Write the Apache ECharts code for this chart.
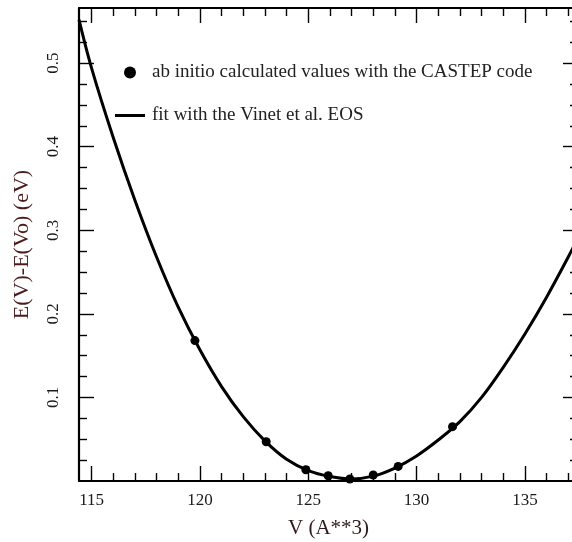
<!DOCTYPE html>
<html>
<head>
<meta charset="utf-8">
<script src="https://cdn.jsdelivr.net/npm/echarts@6/dist/echarts.min.js"></script>
<style>
  html, body { margin: 0; padding: 0; background: #fff; overflow: hidden; }
  #container { width: 572px; height: 542px; }
</style>
</head>
<body>
<div id="container"></div>
<script>
// ab initio points (V in A**3, E(V)-E(Vo) in eV)
var pointV = [119.77, 123.06, 124.89, 125.92, 126.92, 128.0, 129.15, 131.66];
var pointE = [0.168, 0.047, 0.0135, 0.0063, 0.0024, 0.0072, 0.0175, 0.065];

// Vinet EOS fit curve
var fitV = [114.42, 115, 116, 117, 118, 119, 120, 121, 122, 123, 124, 125, 126, 127, 128, 129, 130, 131, 132, 133, 134, 135, 136, 137, 137.45];
var fitE = [0.552, 0.494, 0.411, 0.336, 0.268, 0.208, 0.157, 0.113, 0.077, 0.048, 0.026, 0.0125, 0.0055, 0.0025, 0.0058, 0.0155, 0.030, 0.049, 0.071, 0.100, 0.136, 0.176, 0.220, 0.268, 0.291];

var xMajorTicks = [115, 120, 125, 130, 135];
var xMinorTicks = [116, 117, 118, 119, 121, 122, 123, 124, 126, 127, 128, 129, 131, 132, 133, 134, 136, 137];
var yMajorTicks = [0.1, 0.2, 0.3, 0.4, 0.5];
var yMinorTicks = [0.025, 0.05, 0.075, 0.125, 0.15, 0.175, 0.225, 0.25, 0.275, 0.325, 0.35, 0.375, 0.425, 0.45, 0.475, 0.525, 0.55];

var legendNames = ['ab initio calculated values with the CASTEP code', 'fit with the Vinet et al. EOS'];

var X_MIN = 114.42, X_MAX = 137.45, Y_MIN = 0, Y_MAX = 0.566;
var FONT = 'Liberation Serif';

function zip(a, b) {
  var out = [];
  for (var i = 0; i < a.length; i++) out.push([a[i], b[i]]);
  return out;
}

function xAxisDef(grid, pos, ticks, len, withLine, withLabel) {
  return {
    type: 'value', gridIndex: grid, position: pos, min: X_MIN, max: X_MAX,
    axisLine: { show: withLine, onZero: false, lineStyle: { color: '#000', width: 2.2 } },
    axisTick: { show: true, inside: true, length: len, customValues: ticks, lineStyle: { color: '#000', width: 1.4 } },
    axisLabel: withLabel ? { show: true, customValues: ticks, margin: 11, color: '#1a1a1a', fontFamily: FONT, fontSize: 17 } : { show: false },
    splitLine: { show: false }
  };
}

function yAxisDef(grid, pos, ticks, len, withLine, withLabel) {
  return {
    type: 'value', gridIndex: grid, position: pos, min: Y_MIN, max: Y_MAX,
    axisLine: { show: withLine, onZero: false, lineStyle: { color: '#000', width: 2.2 } },
    axisTick: { show: true, inside: true, length: len, customValues: ticks, lineStyle: { color: '#000', width: 1.4 } },
    axisLabel: withLabel ? { show: true, customValues: ticks, rotate: 90, margin: 17, color: '#1a1a1a', fontFamily: FONT, fontSize: 17 } : { show: false },
    splitLine: { show: false }
  };
}

// plot box runs a few pixels past the right edge of the picture
var gridBox = { left: 79, top: 8, width: 499, height: 473, containLabel: false, outerBoundsMode: 'none' };

var xBottom = xAxisDef(0, 'bottom', xMajorTicks, 15, true, true);
xBottom.name = 'V (A**3)';
xBottom.nameLocation = 'middle';
xBottom.nameGap = 37;
xBottom.nameTextStyle = { color: '#2e1a1a', fontFamily: FONT, fontSize: 21 };

var yLeft = yAxisDef(0, 'left', yMajorTicks, 15, true, true);
yLeft.name = 'E(V)-E(Vo) (eV)';
yLeft.nameLocation = 'middle';
yLeft.nameGap = 46;
yLeft.nameTextStyle = { color: '#4a1c1c', fontFamily: FONT, fontSize: 22 };

var dom = document.getElementById('container');
var myChart = echarts.init(dom, null, { renderer: 'canvas' });
var option = {
  animation: false,
  backgroundColor: '#fff',
  grid: [gridBox, gridBox],
  legend: {
    orient: 'vertical',
    left: 115,
    top: 63,
    padding: 0,
    itemWidth: 30,
    itemHeight: 12,
    itemGap: 24,
    textStyle: { color: '#222', fontFamily: FONT, fontSize: 19, padding: [0, 0, 0, 2] },
    data: [
      { name: legendNames[0], icon: 'circle' },
      { name: legendNames[1], icon: 'path://M0,0 L30,0 L30,3 L0,3 Z' }
    ]
  },
  xAxis: [
    xBottom,
    xAxisDef(0, 'top', xMajorTicks, 15, true, false),
    xAxisDef(1, 'bottom', xMinorTicks, 8, false, false),
    xAxisDef(1, 'top', xMinorTicks, 8, false, false)
  ],
  yAxis: [
    yLeft,
    yAxisDef(0, 'right', yMajorTicks, 15, true, false),
    yAxisDef(1, 'left', yMinorTicks, 8, false, false),
    yAxisDef(1, 'right', yMinorTicks, 8, false, false)
  ],
  series: [
    {
      name: legendNames[1],
      type: 'line',
      xAxisIndex: 0,
      yAxisIndex: 0,
      data: zip(fitV, fitE),
      smooth: 0.35,
      symbol: 'none',
      clip: true,
      lineStyle: { color: '#000', width: 3 },
      itemStyle: { color: '#000' },
      z: 2
    },
    {
      name: legendNames[0],
      type: 'scatter',
      xAxisIndex: 0,
      yAxisIndex: 0,
      data: zip(pointV, pointE),
      symbol: 'circle',
      symbolSize: 9,
      itemStyle: { color: '#000', opacity: 1 },
      z: 3
    }
  ]
};
myChart.setOption(option, true);
</script>
</body>
</html>
